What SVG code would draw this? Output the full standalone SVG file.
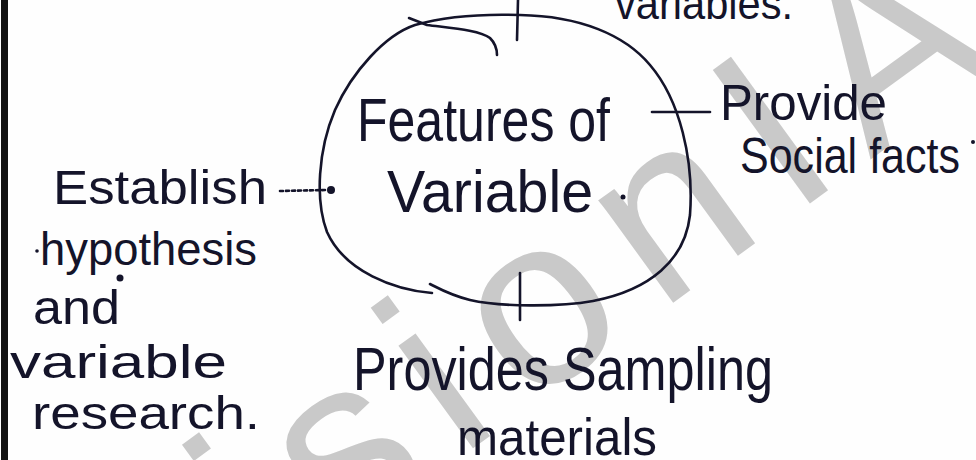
<svg xmlns="http://www.w3.org/2000/svg" width="976" height="460" viewBox="0 0 976 460">
  <style>
    .ink { fill: #14142a; font-family: "Liberation Sans", Arial, sans-serif; }
    .pen { fill: none; stroke: #14142a; stroke-width: 2.6; stroke-linecap: round; stroke-linejoin: round; }
    .mark { fill: #c9c9c9; font-family: "Liberation Sans", Arial, sans-serif; }
  </style>
  <rect x="0" y="0" width="976" height="460" fill="#fefefe"/>

  <!-- faint diagonal watermark behind the notes -->
  <text class="mark" font-size="240" letter-spacing="30" transform="translate(121 704) rotate(-36)" x="0" y="0">VisionIAS</text>

  <!-- page margin rule -->
  <rect x="1" y="0" width="7" height="460" fill="#111"/>

  <!-- central node -->
  <g id="center">
    <path class="pen" d="M 432 293 C 395 290, 345 272, 327 232 C 315 200, 318 150, 335 110 C 352 72, 385 35, 415 25 C 450 15, 490 14, 520 15 C 580 16, 625 35, 650 65 C 680 100, 694 160, 690 215 C 685 260, 650 290, 593 301 C 560 307, 500 307, 470 300 C 450 295, 438 288, 430 284"/>
    <path class="pen" d="M 409 18 L 427 25 C 450 28, 480 30, 490 38 C 496 44, 497 50, 497 55"/>
    <text class="ink" x="357" y="141" font-size="62" textLength="253" lengthAdjust="spacingAndGlyphs">Features of</text>
    <text class="ink" x="387" y="212" font-size="60" textLength="206" lengthAdjust="spacingAndGlyphs">Variable</text>
    <circle cx="623" cy="197" r="2.5" fill="#14142a"/>
  </g>

  <!-- connectors -->
  <g id="connectors">
    <path class="pen" d="M 518 0 L 517 40"/>
    <path class="pen" d="M 652 112 L 710 112"/>
    <path class="pen" d="M 280 191 L 326 190" stroke-dasharray="3 3"/>
    <circle cx="331" cy="190" r="4" fill="#14142a"/>
    <path class="pen" d="M 520 273 L 520 320"/>
  </g>

  <g id="top-node">
    <text class="ink" x="615" y="19" font-size="44" textLength="178" lengthAdjust="spacingAndGlyphs">variables.</text>
  </g>

  <g id="right-node">
    <text class="ink" x="720" y="120" font-size="50" textLength="167" lengthAdjust="spacingAndGlyphs">Provide</text>
    <text class="ink" x="740" y="173" font-size="50" textLength="220" lengthAdjust="spacingAndGlyphs">Social facts</text>
    <circle cx="973" cy="142" r="2" fill="#14142a"/>
  </g>

  <g id="left-node">
    <text class="ink" x="53" y="204" font-size="48" textLength="214" lengthAdjust="spacingAndGlyphs">Establish</text>
    <circle cx="37" cy="251" r="1.8" fill="#14142a"/>
    <text class="ink" x="40" y="265" font-size="46" textLength="217" lengthAdjust="spacingAndGlyphs">hypothesis</text>
    <circle cx="120" cy="278" r="3.5" fill="#14142a"/>
    <text class="ink" x="33" y="324" font-size="48" textLength="87" lengthAdjust="spacingAndGlyphs">and</text>
    <text class="ink" x="10" y="378" font-size="46" textLength="217" lengthAdjust="spacingAndGlyphs">variable</text>
    <text class="ink" x="32" y="429" font-size="46" textLength="228" lengthAdjust="spacingAndGlyphs">research.</text>
  </g>

  <g id="bottom-node">
    <text class="ink" x="353" y="390" font-size="62" textLength="420" lengthAdjust="spacingAndGlyphs">Provides Sampling</text>
    <text class="ink" x="457" y="455" font-size="52" textLength="200" lengthAdjust="spacingAndGlyphs">materials</text>
  </g>
</svg>
